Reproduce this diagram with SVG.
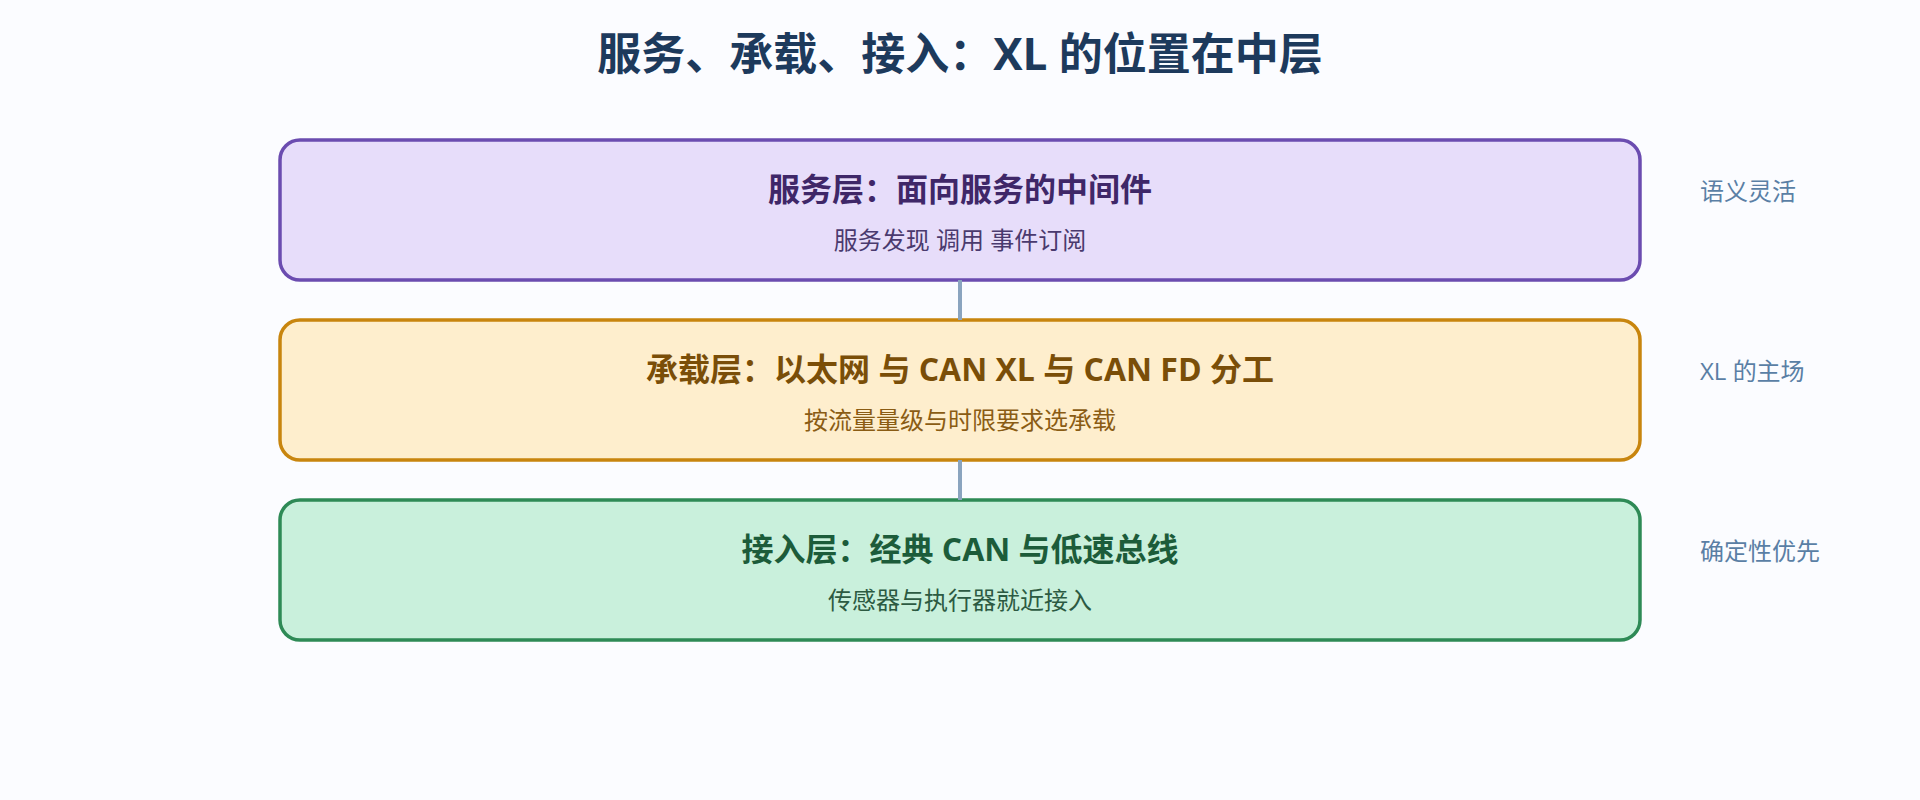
<svg xmlns="http://www.w3.org/2000/svg" width="1920" height="800" viewBox="0 0 1920 800">
<style>
text { font-family: "Open Sans", "Noto Sans CJK SC", sans-serif; text-anchor: middle; }
.title { font-size: 44px; font-weight: 700; fill: #1d3a5c; }
.h { font-size: 32px; font-weight: 700; }
.s { font-size: 24px; font-weight: 400; }
.side { font-size: 24px; fill: #5a7fa5; text-anchor: start; }
.box { stroke-width: 3.5; }
.conn { stroke: #8aa4bf; stroke-width: 4; fill: none; }
</style>
<rect x="0" y="0" width="1920" height="800" fill="#fbfcff"/>
<text class="title" x="960" y="70">服务、承载、接入：XL 的位置在中层</text>
<g id="service">
<rect class="box" x="280" y="140" width="1360" height="140" rx="20" fill="#e7ddfa" stroke="#6b4cb0"/>
<text class="h" x="960" y="201" fill="#3f2768">服务层：面向服务的中间件</text>
<text class="s" x="960" y="249" fill="#4a3a6e">服务发现 调用 事件订阅</text>
</g>
<g id="bearer">
<rect class="box" x="280" y="320" width="1360" height="140" rx="20" fill="#feeecd" stroke="#c8850e"/>
<text class="h" x="960" y="381" fill="#7a4e08">承载层：以太网 与 CAN XL 与 CAN FD 分工</text>
<text class="s" x="960" y="429" fill="#8a5c14">按流量量级与时限要求选承载</text>
</g>
<g id="access">
<rect class="box" x="280" y="500" width="1360" height="140" rx="20" fill="#c9f0dc" stroke="#2e8a56"/>
<text class="h" x="960" y="561" fill="#1c5c3a">接入层：经典 CAN 与低速总线</text>
<text class="s" x="960" y="609" fill="#2c5a42">传感器与执行器就近接入</text>
</g>
<g id="connectors">
<line class="conn" x1="960" y1="280" x2="960" y2="320"/>
<line class="conn" x1="960" y1="460" x2="960" y2="500"/>
</g>
<g id="side-labels">
<text class="side" x="1700" y="200">语义灵活</text>
<text class="side" x="1700" y="380">XL 的主场</text>
<text class="side" x="1700" y="560">确定性优先</text>
</g>
</svg>
